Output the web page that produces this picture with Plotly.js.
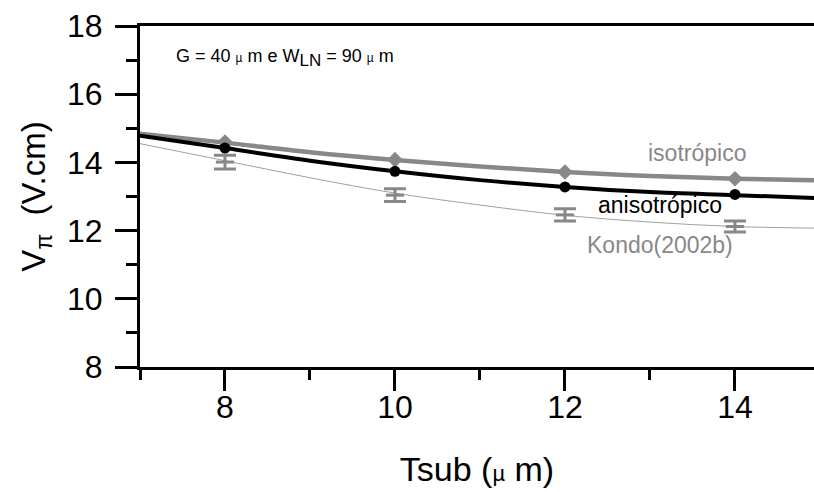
<!DOCTYPE html>
<html>
<head>
<meta charset="utf-8">
<script src="https://cdn.plot.ly/plotly-3.0.1.min.js"></script>
<style>html,body{margin:0;padding:0;background:#fff;}#chart{width:814px;height:492px;}</style>
</head>
<body>
<div id="chart"></div>
<script>
// Curve samples
const curveX = [7, 8, 9, 10, 11, 12, 13, 14, 15];
const isoCurve = [14.84, 14.58, 14.3, 14.07, 13.88, 13.72, 13.6, 13.52, 13.47];
const anisoCurve = [14.78, 14.42, 14.05, 13.74, 13.48, 13.28, 13.13, 13.04, 12.95];
const kondoCurve = [14.55, 14.05, 13.55, 13.1, 12.75, 12.45, 12.25, 12.12, 12.07];
// Point data
const pointX = [8, 10, 12, 14];
const isoPts = [14.6, 14.08, 13.72, 13.52];
const anisoPts = [14.42, 13.74, 13.28, 13.06];
const kondoPts = [14.01, 13.04, 12.46, 12.12];
const kondoErr = [0.2, 0.19, 0.18, 0.16];
const xTicks = [8, 10, 12, 14];
const yTicks = [8, 10, 12, 14, 16, 18];

const FONT = 'Arial, "Liberation Sans", sans-serif';
const GRAY = '#888888';

const traces = [
  {x: curveX, y: kondoCurve, mode: 'lines', line: {color: '#a0a0a0', width: 1, shape: 'spline'}, hoverinfo: 'skip'},
  {x: curveX, y: isoCurve, mode: 'lines', line: {color: GRAY, width: 4.5, shape: 'spline'}, hoverinfo: 'skip'},
  {x: curveX, y: anisoCurve, mode: 'lines', line: {color: '#000', width: 4, shape: 'spline'}, hoverinfo: 'skip'},
  {x: pointX, y: kondoPts, mode: 'markers',
   marker: {symbol: 'line-ew', size: 13, line: {color: GRAY, width: 3}},
   error_y: {type: 'data', array: kondoErr, visible: true, color: GRAY, thickness: 3, width: 11}},
  {x: pointX, y: isoPts, mode: 'markers', marker: {symbol: 'diamond', size: 12, color: GRAY}},
  {x: pointX, y: anisoPts, mode: 'markers', marker: {symbol: 'circle', size: 11, color: '#000'}}
];

const layout = {
  width: 814, height: 492,
  margin: {l: 140, r: 0, t: 26, b: 125},
  showlegend: false,
  paper_bgcolor: '#fff', plot_bgcolor: '#fff',
  font: {family: FONT, color: '#000'},
  xaxis: {
    range: [7, 14.93], tickmode: 'linear', tick0: xTicks[0], dtick: xTicks[1] - xTicks[0],
    ticks: 'outside', ticklen: 21, tickwidth: 3, tickcolor: '#000',
    minor: {dtick: 1, tick0: 7, ticks: 'outside', ticklen: 10, tickwidth: 3, tickcolor: '#000'},
    showline: true, linewidth: 3, linecolor: '#000', mirror: true,
    showgrid: false, zeroline: false,
    tickfont: {size: 32, family: FONT}, ticklabelstandoff: -11,
    title: {text: 'Tsub (<span style="font-size:22px">µ</span> m)', font: {size: 34, family: FONT}, standoff: 33}
  },
  yaxis: {
    range: [8, 18], tickmode: 'linear', tick0: yTicks[0], dtick: yTicks[1] - yTicks[0],
    ticks: 'outside', ticklen: 22, tickwidth: 3, tickcolor: '#000',
    minor: {dtick: 1, tick0: 8, ticks: 'outside', ticklen: 11, tickwidth: 3, tickcolor: '#000'},
    showline: true, linewidth: 3, linecolor: '#000',
    showgrid: false, zeroline: false,
    tickfont: {size: 32, family: FONT}, ticklabelstandoff: 6,
    title: {text: 'V<sub>π</sub>  (V.cm)', font: {size: 33, family: FONT}, standoff: 12}
  },
  annotations: [
    {xref: 'paper', yref: 'paper', x: 0.05, y: 0.905, xanchor: 'left', yanchor: 'middle', showarrow: false,
     text: 'G = 40 <span style="font-size:12px">µ</span> m e W<sub><span style="font-size:17px">LN</span></sub> = 90 <span style="font-size:12px">µ</span> m',
     font: {size: 18, family: FONT, color: '#000'}},
    {xref: 'x', yref: 'y', x: 13.55, y: 14.27, xanchor: 'center', yanchor: 'middle', showarrow: false,
     text: 'isotrópico', font: {size: 23, family: FONT, color: GRAY}},
    {xref: 'x', yref: 'y', x: 13.12, y: 12.74, xanchor: 'center', yanchor: 'middle', showarrow: false,
     text: 'anisotrópico', font: {size: 23, family: FONT, color: '#000'}},
    {xref: 'x', yref: 'y', x: 13.12, y: 11.57, xanchor: 'center', yanchor: 'middle', showarrow: false,
     text: 'Kondo(2002b)', font: {size: 23, family: FONT, color: GRAY}}
  ]
};

Plotly.newPlot('chart', traces, layout, {displayModeBar: false, staticPlot: true});
</script>
</body>
</html>
